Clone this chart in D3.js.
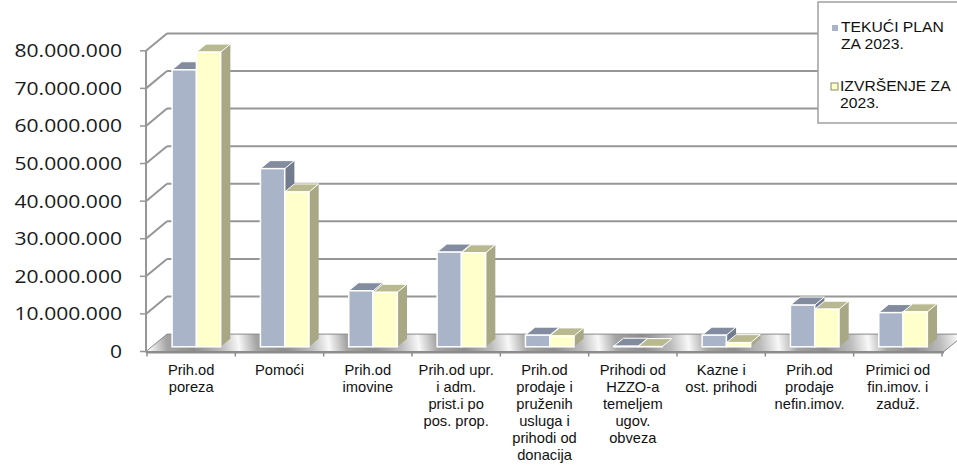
<!DOCTYPE html>
<html lang="hr">
<head>
<meta charset="UTF-8">
<title>Prihodi 2023.</title>
<script src="https://d3js.org/d3.v7.min.js"></script>
<style>
  body { margin: 0; background: #fff; }
  svg { display: block; }
</style>
</head>
<body>
<div id="chart"></div>
<script>
// categories (lines of each label)
var categories = [
  ["Prih.od", "poreza"],
  ["Pomoći"],
  ["Prih.od", "imovine"],
  ["Prih.od upr.", "i adm.", "prist.i po", "pos. prop."],
  ["Prih.od", "prodaje i", "pruženih", "usluga i", "prihodi od", "donacija"],
  ["Prihodi od", "HZZO-a", "temeljem", "ugov.", "obveza"],
  ["Kazne i", "ost. prihodi"],
  ["Prih.od", "prodaje", "nefin.imov."],
  ["Primici od", "fin.imov. i", "zaduž."]
];
var seriesNames = [["TEKUĆI PLAN", "ZA 2023."], ["IZVRŠENJE ZA", "2023."]];
var planValues = [73700000, 47400000, 14900000, 25200000, 3100000, 150000, 3100000, 11100000, 9100000];
var realValues = [78400000, 41200000, 14500000, 25000000, 2900000, 60000, 1100000, 10000000, 9300000];
var yTicks = [0, 10000000, 20000000, 30000000, 40000000, 50000000, 60000000, 70000000, 80000000];

var width = 957, height = 472;
var svg = d3.select("#chart").append("svg")
    .attr("width", width)
    .attr("height", height);

// depth of the 3D box
var depthX = 21, depthY = -17.4;
var barF0 = 0.27, barF1 = 0.73;

var y = d3.scaleLinear().domain([0, 80000000]).range([351.5, 50.8]);
var x = d3.scaleBand().domain(d3.range(categories.length)).range([147, 942]);
var xs = d3.scaleBand().domain([0, 1])
    .range([x.bandwidth() * 0.22, x.bandwidth() * 0.77]);

var fmt = function(v) { return d3.format(",")(v).replace(/,/g, "."); };

var defs = svg.append("defs");
var floorGrad = defs.append("linearGradient")
    .attr("id", "floorGrad")
    .attr("gradientUnits", "userSpaceOnUse")
    .attr("x1", 147).attr("y1", 0).attr("x2", 147 + x.bandwidth()).attr("y2", -12)
    .attr("spreadMethod", "repeat");
floorGrad.selectAll("stop")
  .data([[0, "#8e8e8e"], [0.3, "#bcbcbc"], [0.5, "#f8f8f8"], [0.7, "#a4a4a4"], [1, "#8e8e8e"]])
  .enter().append("stop")
    .attr("offset", function(d) { return d[0]; })
    .attr("stop-color", function(d) { return d[1]; });

var y0 = y(0);
var right = 965;

// back wall gridlines
svg.append("g")
  .selectAll("line")
  .data(yTicks.slice(1))
  .enter().append("line")
    .attr("x1", 146 + depthX).attr("x2", right)
    .attr("y1", function(d) { return y(d) + depthY; })
    .attr("y2", function(d) { return y(d) + depthY; })
    .attr("stroke", "#969696").attr("stroke-width", 2);

// side wall diagonals
svg.append("g")
  .selectAll("line")
  .data(yTicks.slice(1))
  .enter().append("line")
    .attr("x1", 146).attr("x2", 146 + depthX)
    .attr("y1", function(d) { return y(d); })
    .attr("y2", function(d) { return y(d) + depthY; })
    .attr("stroke", "#969696").attr("stroke-width", 2);

// floor
svg.append("polygon")
  .attr("points", [[146, y0], [146 + depthX, y0 + depthY], [right, y0 + depthY], [944, y0]].join(" "))
  .attr("fill", "url(#floorGrad)")
  .attr("stroke", "#8a8a8a").attr("stroke-width", 1);

// x axis line and ticks
svg.append("line")
  .attr("x1", 146).attr("x2", 944).attr("y1", y0 + 1).attr("y2", y0 + 1)
  .attr("stroke", "#8c8c8c").attr("stroke-width", 2);
svg.append("g")
  .selectAll("line")
  .data(d3.range(categories.length + 1))
  .enter().append("line")
    .attr("x1", function(i) { return 147 + i * x.bandwidth(); })
    .attr("x2", function(i) { return 147 + i * x.bandwidth(); })
    .attr("y1", y0 + 1).attr("y2", y0 + 5)
    .attr("stroke", "#8c8c8c").attr("stroke-width", 1.5);

// y axis line and ticks
svg.append("line")
  .attr("x1", 146).attr("x2", 146).attr("y1", y(80000000)).attr("y2", y0 + 1)
  .attr("stroke", "#969696").attr("stroke-width", 2);
svg.append("g")
  .selectAll("line")
  .data(yTicks)
  .enter().append("line")
    .attr("x1", 140).attr("x2", 146)
    .attr("y1", function(d) { return y(d); })
    .attr("y2", function(d) { return y(d); })
    .attr("stroke", "#969696").attr("stroke-width", 1.5);

svg.append("g")
  .selectAll("text")
  .data(yTicks)
  .enter().append("text")
    .attr("transform", function(d) { return "translate(122," + (y(d) + 6.5) + ") scale(1.14,1)"; })
    .attr("text-anchor", "end")
    .style("font-family", "'Open Sans', sans-serif")
    .style("font-size", "18.5px")
    .attr("fill", "#1a1a1a")
    .text(fmt);

// bars
var colors = [
  { front: "#a9b4c8", top: "#828c9e", side: "#737c8d" },
  { front: "#ffffcc", top: "#b9b98f", side: "#a8a884" }
];
var data = [];
categories.forEach(function(c, i) {
  data.push({ cat: i, s: 0, v: planValues[i] });
  data.push({ cat: i, s: 1, v: realValues[i] });
});

var bars = svg.append("g").selectAll("g")
  .data(data)
  .enter().append("g");

function geom(d) {
  var x0 = x(d.cat) + xs(d.s) + depthX * barF0;
  var x1 = x0 + xs.bandwidth();
  var yb = y(0) + depthY * barF0;
  var yt = y(d.v) + depthY * barF0;
  var dx = depthX * (barF1 - barF0), dy = depthY * (barF1 - barF0);
  return { x0: x0, x1: x1, yb: yb, yt: yt, dx: dx, dy: dy };
}

bars.append("polygon")
  .attr("points", function(d) {
    var g = geom(d);
    return [[g.x1, g.yt], [g.x1 + g.dx, g.yt + g.dy], [g.x1 + g.dx, g.yb + g.dy], [g.x1, g.yb]].join(" ");
  })
  .attr("fill", function(d) { return colors[d.s].side; });
bars.append("polygon")
  .attr("points", function(d) {
    var g = geom(d);
    return [[g.x0, g.yt], [g.x1, g.yt], [g.x1 + g.dx, g.yt + g.dy], [g.x0 + g.dx, g.yt + g.dy]].join(" ");
  })
  .attr("fill", function(d) { return colors[d.s].top; })
  .attr("stroke", "#fff").attr("stroke-width", 1);
bars.append("rect")
  .attr("x", function(d) { return geom(d).x0; })
  .attr("y", function(d) { return geom(d).yt; })
  .attr("width", xs.bandwidth())
  .attr("height", function(d) { var g = geom(d); return g.yb - g.yt; })
  .attr("fill", function(d) { return colors[d.s].front; })
  .attr("stroke", "#fff").attr("stroke-width", 1.5);

// category labels
var labels = svg.append("g").selectAll("text")
  .data(categories)
  .enter().append("text")
    .attr("transform", function(d, i) { return "translate(" + (x(i) + x.bandwidth() / 2) + ",375) scale(1.05,1)"; })
    .attr("text-anchor", "middle")
    .style("font-family", "'Liberation Sans', Arial, sans-serif")
    .style("font-size", "14px")
    .attr("fill", "#111");
labels.selectAll("tspan")
  .data(function(d) { return d; })
  .enter().append("tspan")
    .attr("x", 0)
    .attr("dy", function(d, j) { return j === 0 ? 0 : 17; })
    .text(function(d) { return d; });

// legend
var legend = svg.append("g");
legend.append("rect")
  .attr("x", 818).attr("y", 2).attr("width", 150).attr("height", 121)
  .attr("fill", "#fff").attr("stroke", "#a0a0a0").attr("stroke-width", 1.5);
var legendY = [32, 91];
seriesNames.forEach(function(name, i) {
  legend.append("rect")
    .attr("x", i === 0 ? 832 : 831).attr("y", legendY[i] - (i === 0 ? 7 : 8))
    .attr("width", i === 0 ? 6 : 7).attr("height", i === 0 ? 6 : 7)
    .attr("fill", colors[i].front)
    .attr("stroke", i === 0 ? "none" : "#8a8a6a").attr("stroke-width", 1);
  var t = legend.append("text")
    .attr("transform", "translate(" + (i === 0 ? 841 : 840) + "," + legendY[i] + ") scale(1.12,1)")
    .style("font-family", "'Liberation Sans', Arial, sans-serif")
    .style("font-size", "14px")
    .attr("fill", "#111");
  t.selectAll("tspan")
    .data(name)
    .enter().append("tspan")
      .attr("x", 0)
      .attr("dy", function(d, j) { return j === 0 ? 0 : 17; })
      .text(function(d) { return d; });
});
</script>
</body>
</html>
